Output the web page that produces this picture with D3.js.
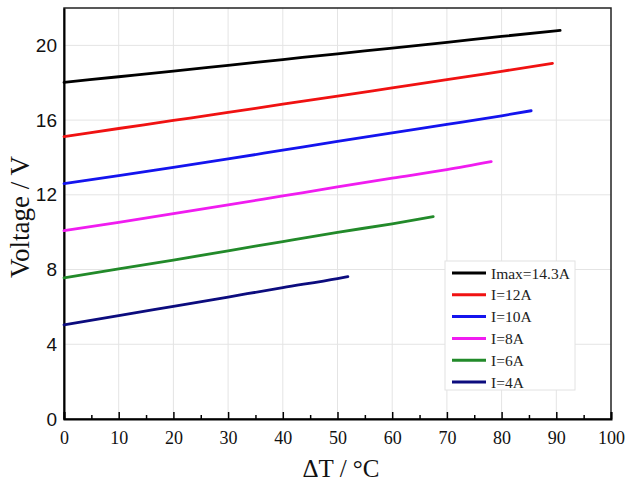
<!DOCTYPE html>
<html>
<head>
<meta charset="utf-8">
<script src="https://cdn.jsdelivr.net/npm/d3@7"></script>
<style>
html,body{margin:0;padding:0;background:#fff;}
svg{display:block;}
</style>
</head>
<body>
<svg id="chart" width="625" height="486"></svg>
<script>
// ---- data ----
const seriesNames = ["Imax=14.3A", "I=12A", "I=10A", "I=8A", "I=6A", "I=4A"];
const seriesColors = ["#000000", "#f01212", "#1414ee", "#f01cf0", "#228a2a", "#0c0c7e"];
const dT_black   = [0, 10, 20, 30, 40, 50, 60, 70, 80, 90.7];
const V_black    = [18.02, 18.32, 18.62, 18.93, 19.24, 19.55, 19.85, 20.16, 20.48, 20.80];
const dT_red     = [0, 10, 20, 30, 40, 50, 60, 70, 80, 89.3];
const V_red      = [15.12, 15.55, 15.98, 16.41, 16.85, 17.28, 17.72, 18.16, 18.61, 19.03];
const dT_blue    = [0, 10, 20, 30, 40, 50, 60, 70, 80, 85.4];
const V_blue     = [12.60, 13.03, 13.47, 13.92, 14.39, 14.86, 15.32, 15.77, 16.23, 16.50];
const dT_magenta = [0, 10, 20, 30, 40, 50, 60, 70, 78.1];
const V_magenta  = [10.08, 10.53, 10.99, 11.46, 11.94, 12.42, 12.89, 13.35, 13.78];
const dT_green   = [0, 10, 20, 30, 40, 50, 60, 67.5];
const V_green    = [7.56, 8.03, 8.51, 9.00, 9.50, 9.99, 10.45, 10.83];
const dT_navy    = [0, 10, 20, 30, 40, 50, 51.9];
const V_navy     = [5.04, 5.53, 6.03, 6.53, 7.03, 7.52, 7.62];
const xTicks = [0, 10, 20, 30, 40, 50, 60, 70, 80, 90, 100];
const xMinorTicks = [5, 15, 25, 35, 45, 55, 65, 75, 85, 95];
const yTicks = [0, 4, 8, 12, 16, 20];
const xTitle = "ΔT / °C";
const yTitle = "Voltage / V";

const series = [
  [dT_black, V_black], [dT_red, V_red], [dT_blue, V_blue],
  [dT_magenta, V_magenta], [dT_green, V_green], [dT_navy, V_navy]
].map((s, i) => ({
  name: seriesNames[i], color: seriesColors[i],
  pts: s[0].map((x, j) => ({x: x, y: s[1][j]}))
}));

// ---- layout ----
const svg = d3.select("#chart");
const L = 64, R = 611, T = 8, B = 419;
const x = d3.scaleLinear().domain([0, 100]).range([L, R]);
const y = d3.scaleLinear().domain([0, 22]).range([B, T]);

// grid
const grid = svg.append("g").attr("stroke", "#e4e4e4").attr("stroke-width", 1);
grid.selectAll("line.v").data(xTicks.slice(1, -1)).join("line")
  .attr("x1", d => x(d)).attr("x2", d => x(d)).attr("y1", T).attr("y2", B);
grid.selectAll("line.h").data(yTicks.slice(1)).join("line")
  .attr("x1", L).attr("x2", R).attr("y1", d => y(d)).attr("y2", d => y(d));

// frame
svg.append("rect").attr("x", L).attr("y", T).attr("width", R - L).attr("height", B - T)
  .attr("fill", "none").attr("stroke", "#222").attr("stroke-width", 1.5);

// x axis
const xAxis = d3.axisBottom(x).tickValues(xTicks).tickSize(-7).tickPadding(12).tickFormat(d3.format("d"));
const gx = svg.append("g").attr("transform", `translate(0,${B})`).call(xAxis);
gx.select(".domain").attr("stroke", "#000").attr("stroke-width", 2);
gx.selectAll(".tick line").attr("stroke", "#000").attr("stroke-width", 1.5);
gx.selectAll(".tick text").attr("font-family", "Liberation Serif, Times New Roman, serif")
  .attr("font-size", 18).attr("fill", "#111");
const xMinor = d3.axisBottom(x).tickValues(xMinorTicks).tickSize(-4).tickFormat("");
const gxm = svg.append("g").attr("transform", `translate(0,${B})`).call(xMinor);
gxm.select(".domain").remove();
gxm.selectAll(".tick line").attr("stroke", "#000").attr("stroke-width", 1.5);

// y axis
const yAxis = d3.axisLeft(y).tickValues(yTicks).tickSize(0).tickPadding(7).tickFormat(d3.format("d"));
const gy = svg.append("g").attr("transform", `translate(${L},0)`).call(yAxis);
gy.select(".domain").attr("stroke", "#000").attr("stroke-width", 2);
gy.selectAll(".tick text").attr("font-family", "Liberation Sans, Arial, sans-serif")
  .attr("font-size", 19).attr("fill", "#111");

// series
const line = d3.line().x(d => x(d.x)).y(d => y(d.y)).curve(d3.curveMonotoneX);
svg.append("g").selectAll("path").data(series).join("path")
  .attr("d", d => line(d.pts)).attr("fill", "none")
  .attr("stroke", d => d.color).attr("stroke-width", 2.8).attr("stroke-linecap", "round");

// titles
svg.append("text").attr("x", 341).attr("y", 477).attr("text-anchor", "middle")
  .attr("font-family", "Liberation Serif, Times New Roman, serif").attr("font-size", 25)
  .attr("fill", "#111").text(xTitle);
svg.append("text").attr("transform", "translate(29,217) rotate(-90)").attr("text-anchor", "middle")
  .attr("font-family", "Liberation Serif, Times New Roman, serif").attr("font-size", 27)
  .attr("fill", "#111").text(yTitle);

// legend
const lg = svg.append("g");
lg.append("rect").attr("x", 445).attr("y", 261).attr("width", 130).attr("height", 129)
  .attr("fill", "#fff").attr("stroke", "#e2e2e2").attr("stroke-width", 1);
const rowY = i => 273 + i * 21.8;
lg.selectAll("line").data(series).join("line")
  .attr("x1", 452).attr("x2", 486).attr("y1", (d, i) => rowY(i)).attr("y2", (d, i) => rowY(i))
  .attr("stroke", d => d.color).attr("stroke-width", 3);
lg.selectAll("text").data(series).join("text")
  .attr("x", 491).attr("y", (d, i) => rowY(i) + 5.5)
  .attr("font-family", "Liberation Serif, Times New Roman, serif").attr("font-size", 15.5)
  .attr("fill", "#222").text(d => d.name);
</script>
</body>
</html>
